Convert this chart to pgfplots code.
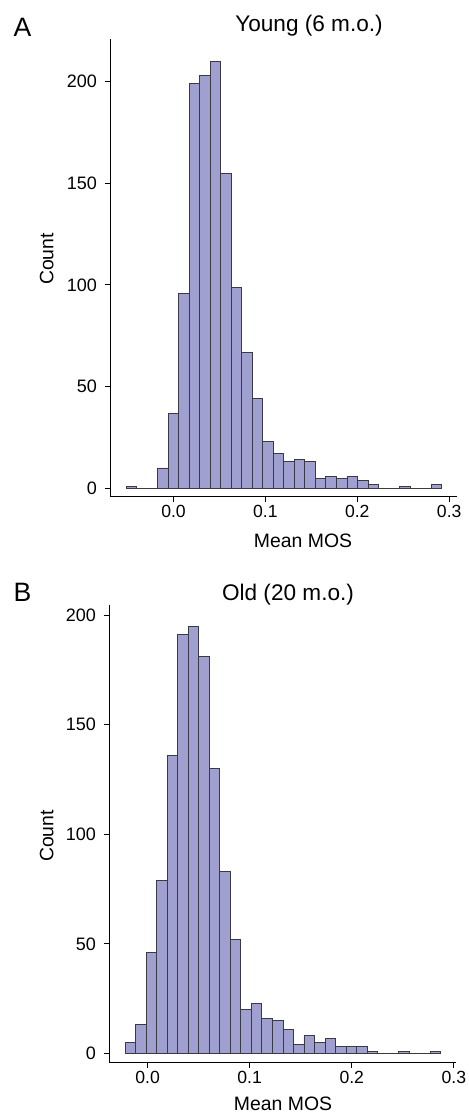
\documentclass[border=0pt]{standalone}
\usepackage{fontspec}
\setmainfont{Liberation Sans}
\usepackage{pgfplots}
\pgfplotsset{compat=1.18}
\definecolor{barfill}{HTML}{9FA0CF}
\definecolor{baredge}{HTML}{3A3A45}

% 1 px of the reference = 0.5pt
\pgfplotsset{
  histo/.style={
    scale only axis, width=173.5pt, height=228.5pt,
    axis x line*=bottom, axis y line*=left,
    axis line style={-, line width=0.5pt, black},
    tick align=outside, major tick length=2.75pt,
    every tick/.style={black, line width=0.5pt},
    xtick={0,0.1,0.2,0.3}, xticklabels={0.0,0.1,0.2,0.3},
    ytick={0,50,100,150,200},
    /pgf/number format/assume math mode=true,
    yticklabel style={anchor=east, xshift=-0.3pt, font=\fontsize{9}{10}\selectfont},
    xticklabel style={anchor=north, yshift=1.5pt, font=\fontsize{8.8}{10}\selectfont},
  },
  bars/.style={ybar interval, fill=barfill, draw=baredge, line width=0.45pt},
}

\begin{document}
\begin{tikzpicture}
\path[use as bounding box] (0,0) rectangle (234.5pt,-556pt);

% A: Young (6 m.o.)
\begin{axis}[histo, at={(55pt,-248pt)}, anchor=south west,
  xmin=-0.0691, xmax=0.3085, ymin=-3.79, ymax=221.0]
\addplot[bars] coordinates {
(-0.05168,1) (-0.04023,0) (-0.02878,0) (-0.01733,10) (-0.00588,37)
(0.00557,96) (0.01701,199) (0.02846,203) (0.03991,210) (0.05136,155)
(0.06281,99) (0.07426,67) (0.08571,44) (0.09716,23) (0.10861,17)
(0.12006,13) (0.13150,14) (0.14295,13) (0.15440,5) (0.16585,6)
(0.17730,5) (0.18875,6) (0.20020,4) (0.21165,2) (0.22310,0)
(0.23455,0) (0.24599,1) (0.25744,0) (0.26889,0) (0.28034,2)
(0.29179,0)};
\end{axis}

% B: Old (20 m.o.)
\begin{axis}[histo, at={(54.5pt,-531pt)}, anchor=south west,
  xmin=-0.0378, xmax=0.3021, ymin=-3.92, ymax=204.6]
\addplot[bars] coordinates {
(-0.02181,5) (-0.01152,13) (-0.00122,46) (0.00907,79) (0.01937,136)
(0.02966,191) (0.03995,195) (0.05025,181) (0.06054,130) (0.07084,83)
(0.08113,52) (0.09142,20) (0.10172,23) (0.11201,16) (0.12231,15)
(0.13260,11) (0.14289,4) (0.15319,8) (0.16348,5) (0.17378,7)
(0.18407,3) (0.19436,3) (0.20466,3) (0.21495,1) (0.22525,0)
(0.23554,0) (0.24583,1) (0.25613,0) (0.26642,0) (0.27672,1)
(0.28701,0)};
\end{axis}

% panel letters, titles and axis labels
\node[anchor=base west, inner sep=0pt, font=\fontsize{13.3}{15}\selectfont] at (6.65pt,-18.35pt) {A};
\node[anchor=base west, inner sep=0pt, font=\fontsize{13.3}{15}\selectfont] at (6.65pt,-300.85pt) {B};
\node[anchor=base, inner sep=0pt, font=\fontsize{11.3}{13}\selectfont] at (154.5pt,-15.85pt) {Young (6 m.o.)};
\node[anchor=base, inner sep=0pt, font=\fontsize{11.3}{13}\selectfont] at (144pt,-300.35pt) {Old (20 m.o.)};
\node[anchor=base, inner sep=0pt, font=\fontsize{9.7}{11}\selectfont] at (151.5pt,-273.5pt) {Mean MOS};
\node[anchor=base, inner sep=0pt, font=\fontsize{9.7}{11}\selectfont] at (141.5pt,-555pt) {Mean MOS};
\node[anchor=base, rotate=90, inner sep=0pt, font=\fontsize{9.7}{11}\selectfont] at (26.65pt,-129.5pt) {Count};
\node[anchor=base, rotate=90, inner sep=0pt, font=\fontsize{9.7}{11}\selectfont] at (26.65pt,-418pt) {Count};
\end{tikzpicture}
\end{document}
